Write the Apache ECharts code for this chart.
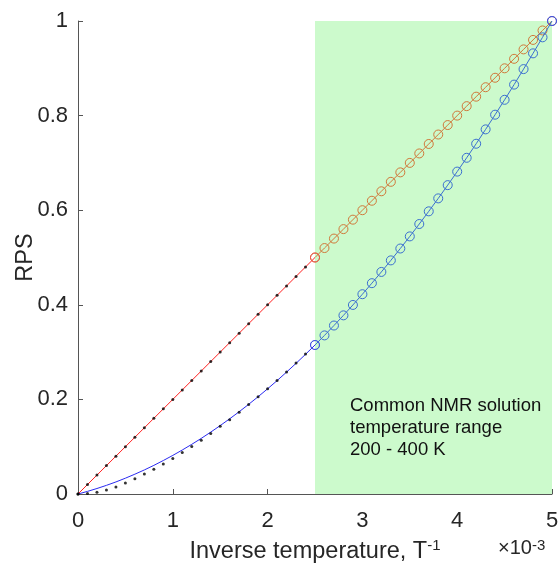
<!DOCTYPE html>
<html>
<head>
<meta charset="utf-8">
<script src="https://cdn.jsdelivr.net/npm/echarts@6/dist/echarts.min.js"></script>
<style>html,body{margin:0;padding:0;background:#fff;}#c{width:560px;height:569px;}</style>
</head>
<body>
<div id="c"></div>
<script>
// x values (inverse temperature, x10^-3)
var xLow = [0,0.1,0.2,0.3,0.4,0.5,0.6,0.7,0.8,0.9,1.0,1.1,1.2,1.3,1.4,1.5,1.6,1.7,1.8,1.9,2.0,2.1,2.2,2.3,2.4,2.5];
var redLow = [0,0.02,0.04,0.06,0.08,0.10,0.12,0.14,0.16,0.18,0.20,0.22,0.24,0.26,0.28,0.30,0.32,0.34,0.36,0.38,0.40,0.42,0.44,0.46,0.48,0.50];
var blueLow = [0,0.0055,0.0116,0.0183,0.0255,0.0334,0.0419,0.0509,0.0605,0.0708,0.0816,0.0930,0.1050,0.1176,0.1308,0.1446,0.1590,0.1739,0.1895,0.2057,0.2224,0.2397,0.2577,0.2762,0.2953,0.315];

var xDots = [0,0.1,0.2,0.3,0.4,0.5,0.6,0.7,0.8,0.9,1.0,1.1,1.2,1.3,1.4,1.5,1.6,1.7,1.8,1.9,2.0,2.1,2.2,2.3,2.4];
var redDots = [0,0.02,0.04,0.06,0.08,0.10,0.12,0.14,0.16,0.18,0.20,0.22,0.24,0.26,0.28,0.30,0.32,0.34,0.36,0.38,0.40,0.42,0.44,0.46,0.48];
var blueDots = [0,0.0013,0.0035,0.0084,0.0150,0.0230,0.0322,0.0424,0.0522,0.0636,0.0752,0.0875,0.1005,0.1135,0.128,0.143,0.157,0.173,0.189,0.2057,0.2224,0.240,0.258,0.277,0.296];

var xHigh = [2.5,2.6,2.7,2.8,2.9,3.0,3.1,3.2,3.3,3.4,3.5,3.6,3.7,3.8,3.9,4.0,4.1,4.2,4.3,4.4,4.5,4.6,4.7,4.8,4.9,5.0];
var orangeHigh = [0.50,0.52,0.54,0.56,0.58,0.60,0.62,0.64,0.66,0.68,0.70,0.72,0.74,0.76,0.78,0.80,0.82,0.84,0.86,0.88,0.90,0.92,0.94,0.96,0.98,1.00];
var blueHigh = [0.315,0.3353,0.3562,0.3777,0.3997,0.4224,0.4457,0.4695,0.4939,0.5190,0.5446,0.5708,0.5976,0.6250,0.6530,0.6816,0.7108,0.7405,0.7709,0.8019,0.8334,0.8655,0.8983,0.9316,0.9655,1.0];

var xTicks = [0,1,2,3,4,5];
var yTicks = [0,0.2,0.4,0.6,0.8,1];
var rangeX = [2.5,5];
var noteLines = ['Common NMR solution','temperature range','200 - 400 K'];

function pairs(xs, ys){ return xs.map(function(x,i){ return [x, ys[i]]; }); }

var FONT = '"Liberation Sans", Arial, Helvetica, sans-serif';
var TXT = '#262626';
var chart = echarts.init(document.getElementById('c'), null, {renderer:'canvas'});
var option = {
  animation:false,
  backgroundColor:'#fff',
  grid:{left:78, right:8, top:21, bottom:75, containLabel:false, outerBoundsMode:'none'},
  xAxis:{
    type:'value', min:0, max:5, interval:1,
    axisLine:{show:true, lineStyle:{color:'#555', width:1}},
    axisTick:{show:true, inside:true, length:5, lineStyle:{color:'#555'}},
    splitLine:{show:false},
    axisLabel:{color:TXT, fontSize:22, fontFamily:FONT, margin:16,
      formatter:function(v){ return xTicks.indexOf(v)>=0 ? String(v) : ''; }},
    name:'{n|Inverse temperature, T}{s|-1}',
    nameLocation:'middle', nameGap:44, nameMoveOverlap:false,
    nameTextStyle:{rich:{n:{fontSize:23.5, color:TXT, fontFamily:FONT}, s:{fontSize:15, color:TXT, fontFamily:FONT, verticalAlign:'top', padding:[0,0,12,0]}}}
  },
  yAxis:{
    type:'value', min:0, max:1, interval:0.2,
    axisLine:{show:true, lineStyle:{color:'#555', width:1}},
    axisTick:{show:true, inside:true, length:5, lineStyle:{color:'#555'}},
    splitLine:{show:false},
    axisLabel:{color:TXT, fontSize:22, fontFamily:FONT, margin:10,
      formatter:function(v){ var r=Math.round(v*10)/10; return String(r); }},
    name:'RPS', nameLocation:'middle', nameGap:40, nameRotate:90, nameMoveOverlap:false,
    nameTextStyle:{fontSize:23.5, color:TXT, fontFamily:FONT}
  },
  graphic:[
    {type:'text', left:498, top:538, z:100, style:{rich:{a:{fontSize:20,fill:TXT,fontFamily:FONT}, s:{fontSize:15, fill:TXT, fontFamily:FONT, verticalAlign:'top'}}, text:'{a|×10}{s|-3}'}},
    {type:'text', left:350, top:395, z:100, style:{text:noteLines.join('\n'), fontSize:18.5, lineHeight:22, fill:'#111', fontFamily:FONT}}
  ],
  series:[
    {type:'line', data:[], silent:true,
      markArea:{silent:true, itemStyle:{color:'#ccfacc'}, data:[[{xAxis:rangeX[0], yAxis:0},{xAxis:rangeX[1], yAxis:1}]]}},
    {type:'line', data:pairs(xLow, redLow), showSymbol:false, symbol:'none', lineStyle:{color:'#ff2020', width:1}, z:3},
    {type:'line', data:pairs(xLow, blueLow), showSymbol:false, symbol:'none', lineStyle:{color:'#2a2af0', width:1}, z:3},
    {type:'scatter', data:pairs(xDots, redDots), symbol:'circle', symbolSize:3, itemStyle:{color:'#000'}, z:4},
    {type:'scatter', data:pairs(xDots, blueDots), symbol:'circle', symbolSize:3, itemStyle:{color:'#000'}, z:4},
    {type:'line', data:pairs(xHigh, orangeHigh), symbol:'circle', symbolSize:9, showSymbol:true,
      lineStyle:{color:'#d0783a', width:1}, itemStyle:{color:'rgba(0,0,0,0)', borderColor:'#d0783a', borderWidth:1}, z:3},
    {type:'line', data:pairs(xHigh, blueHigh), symbol:'circle', symbolSize:9, showSymbol:true,
      lineStyle:{color:'#3a6fd0', width:1}, itemStyle:{color:'rgba(0,0,0,0)', borderColor:'#3a6fd0', borderWidth:1}, z:4},
    {type:'scatter', data:[[xHigh[0], orangeHigh[0]]], symbol:'circle', symbolSize:9,
      itemStyle:{color:'rgba(0,0,0,0)', borderColor:'#f04040', borderWidth:1}, z:5},
    {type:'scatter', data:[[xHigh[0], blueHigh[0]],[xHigh[25], blueHigh[25]]], symbol:'circle', symbolSize:9,
      itemStyle:{color:'rgba(0,0,0,0)', borderColor:'#4848e8', borderWidth:1}, z:5}
  ]
};
chart.setOption(option);
</script>
</body>
</html>
